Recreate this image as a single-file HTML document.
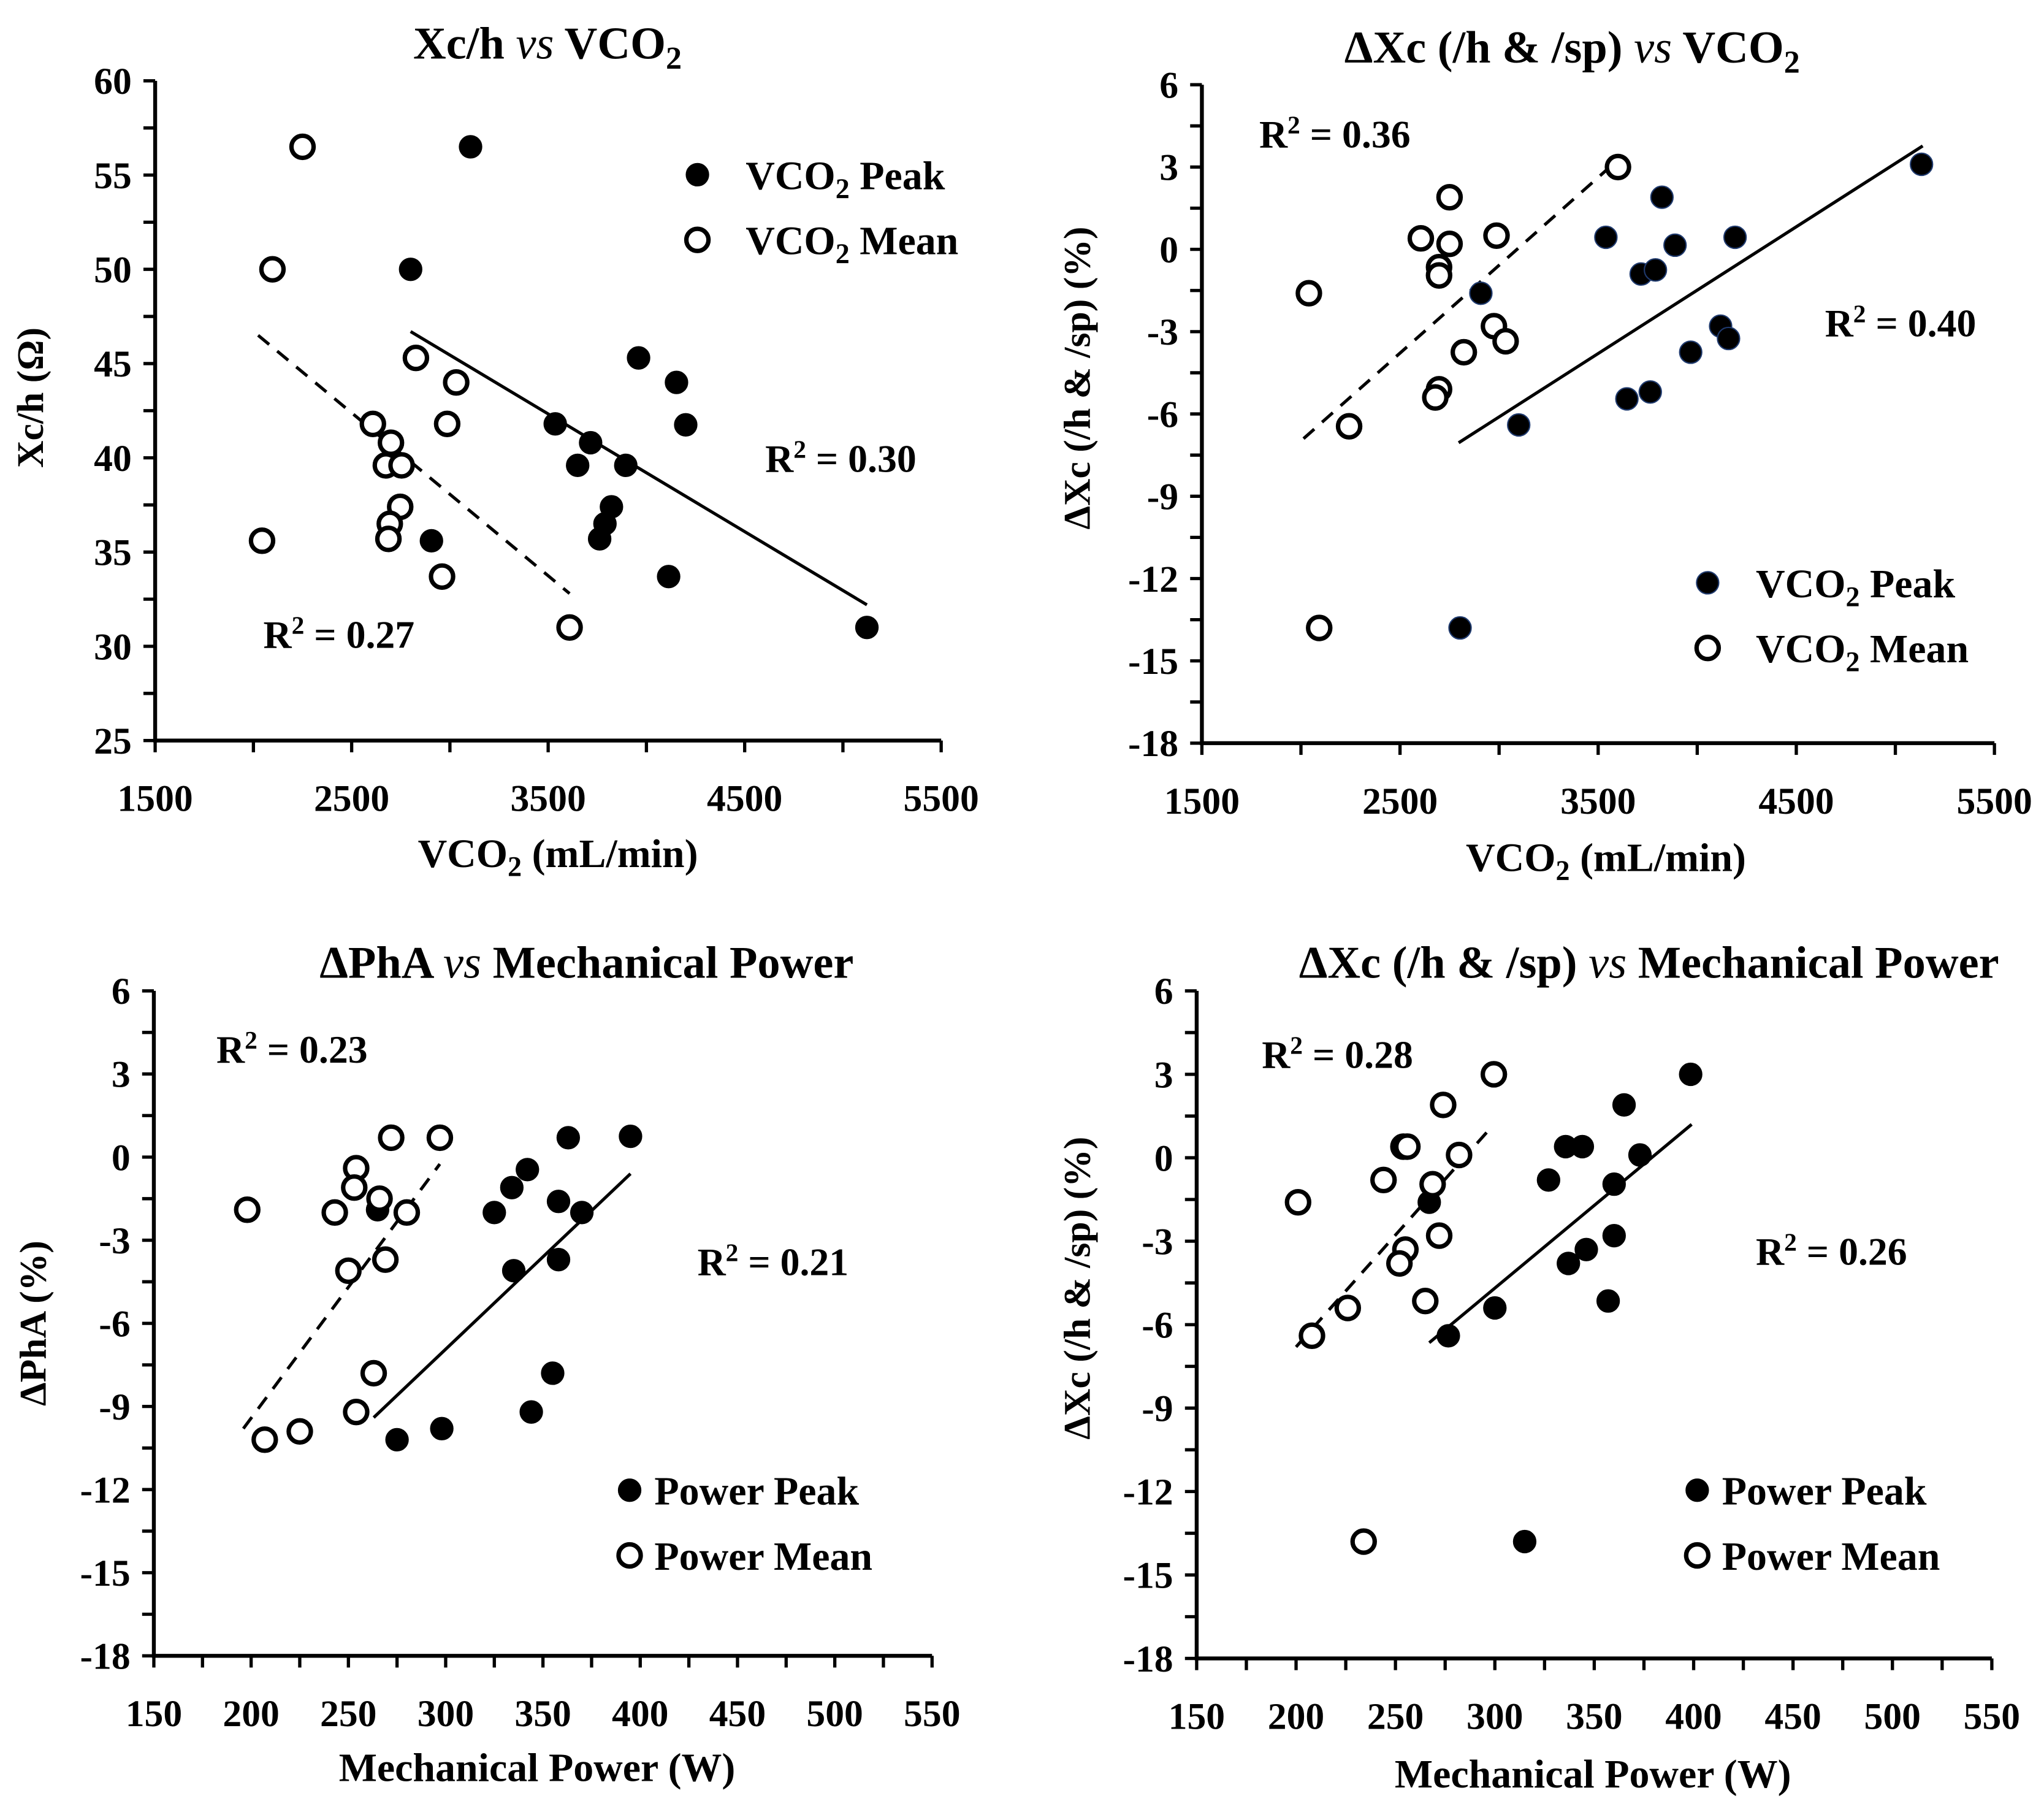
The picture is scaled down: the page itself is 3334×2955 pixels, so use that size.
<!DOCTYPE html>
<html><head><meta charset="utf-8"><style>
html,body{margin:0;padding:0;background:#fff}
svg{display:block}
text{font-family:"Liberation Serif",serif;font-weight:bold;fill:#000}
</style></head><body>
<svg id="c" width="3334" height="2955" viewBox="0 0 1568 1389.8" xmlns="http://www.w3.org/2000/svg"></svg>
<script>
// Panel 1: Xc/h vs VCO2
const p1PeakX=[3105,2800,3960,4153,4200,3536,3716,3650,3895,3822,3789,3762,2906,4113,5122];
const p1PeakY=[56.5,50,45.3,44,41.75,41.8,40.8,39.6,39.6,37.4,36.5,35.7,35.6,33.7,31.0];
const p1MeanX=[2250,2097,2827,3032,2608,2986,2700,2674,2754,2747,2694,2687,2044,2960,3609];
const p1MeanY=[56.5,50,45.3,44,41.8,41.8,40.8,39.6,39.6,37.4,36.5,35.7,35.6,33.7,31.0];
const p1TrendPeak=[[2800,46.7],[5122,32.2]];
const p1TrendMean=[[2024,46.5],[3609,32.8]];
// Panel 2: dXc vs VCO2
const p2PeakX=[5132,3822,3539,4191,3888,3717,3789,2908,4118,4158,3967,3645,3763,3099,2803];
const p2PeakY=[3.1,1.9,0.44,0.44,0.15,-0.9,-0.75,-1.6,-2.8,-3.25,-3.75,-5.45,-5.2,-6.4,-13.8];
const p2MeanX=[3600,2750,2605,2750,2987,2697,2697,2040,2974,3033,2822,2697,2678,2243,2092];
const p2MeanY=[3.0,1.9,0.4,0.2,0.5,-0.65,-0.95,-1.6,-2.8,-3.35,-3.75,-5.1,-5.4,-6.45,-13.8];
const p2TrendPeak=[[2796,-7.05],[5138,3.77]];
const p2TrendMean=[[2013,-6.9],[3559,3.0]];
// Panel 3: dPhA vs power
const p3PeakX=[395,363,342,334,325,358,370,265,358,335,355,344,298,275];
const p3PeakY=[0.75,0.7,-0.45,-1.1,-2.0,-1.6,-2.0,-1.9,-3.7,-4.1,-7.8,-9.2,-9.8,-10.2];
const p3MeanX=[198,243,254,253,266,280,272,297,250,269,263,254,225,207];
const p3MeanY=[-1.9,-2.0,-0.4,-1.1,-1.5,-2.0,0.7,0.7,-4.1,-3.7,-7.8,-9.2,-9.9,-10.2];
const p3TrendPeak=[[263,-9.4],[395,-0.6]];
const p3TrendMean=[[196,-9.8],[297,-0.25]];
// Panel 4: dXc vs power
const p4PeakX=[398.5,365,335.6,344,373,327,360,267,360,346,337,357,300,276.6,315];
const p4PeakY=[3.0,1.9,0.4,0.4,0.1,-0.8,-0.95,-1.6,-2.8,-3.3,-3.8,-5.15,-5.4,-6.4,-13.8];
const p4MeanX=[299.5,274,254,256,282,244,268.7,201,272,255,252,265,226,208,234];
const p4MeanY=[3.0,1.9,0.4,0.4,0.1,-0.8,-0.95,-1.6,-2.8,-3.3,-3.8,-5.15,-5.4,-6.4,-13.8];
const p4TrendPeak=[[267,-6.65],[399,1.2]];
const p4TrendMean=[[200,-6.8],[297,1.0]];
const vcoTicks=[1500,2500,3500,4500,5500];
const powTicks=[150,200,250,300,350,400,450,500,550];
const xcTicks=[25,30,35,40,45,50,55,60];
const pctTicks=[-18,-15,-12,-9,-6,-3,0,3,6];

const NS='http://www.w3.org/2000/svg';
const svg=document.getElementById('c');
function mk(tag,attrs,parent,txt){const e=document.createElementNS(NS,tag);for(const k in attrs)e.setAttribute(k,attrs[k]);if(txt!==undefined)e.textContent=txt;(parent||svg).appendChild(e);return e;}
function rich(parent,x,y,size,parts,anchor,name,rot){
  const t=mk('text',{x:x,y:y,'font-size':size,'text-anchor':anchor||'middle'},parent);
  if(rot)t.setAttribute('transform',rot);
  
  
  parts.forEach(p=>{const s=mk('tspan',{},t,p.t);if(p.sub){s.setAttribute('dy',size*0.22);s.setAttribute('font-size',size*0.7);}if(p.after){s.setAttribute('dy',-size*0.22);}if(p.sup){s.setAttribute('baseline-shift','super');s.setAttribute('font-size',size*0.65);}if(p.it){s.setAttribute('font-style','italic');s.setAttribute('font-weight','normal');}});
  return t;
}
function panel(cfg){
  const g=mk('g',{});
  
  
  const sx=v=>cfg.x0+(v-cfg.xmin)/(cfg.xmax-cfg.xmin)*(cfg.x1-cfg.x0);
  const sy=v=>cfg.y0+(v-cfg.ymin)/(cfg.ymax-cfg.ymin)*(cfg.y1-cfg.y0);
  const ax=mk('line',{x1:cfg.x0,y1:cfg.y0,x2:cfg.x1,y2:cfg.y0,stroke:'#000','stroke-width':3},g);
  
  const ay=mk('line',{x1:cfg.x0,y1:cfg.y0+1.5,x2:cfg.x0,y2:cfg.y1,stroke:'#000','stroke-width':3},g);
  
  const xt=cfg.xticks;
  for(let i=0;i<xt.length;i++){
    const X=sx(xt[i]);
    mk('line',{x1:X,y1:cfg.y0,x2:X,y2:cfg.y0+9,stroke:'#000','stroke-width':2.5},g);
    if(i<xt.length-1){const m=sx((xt[i]+xt[i+1])/2);mk('line',{x1:m,y1:cfg.y0,x2:m,y2:cfg.y0+9,stroke:'#000','stroke-width':2.5},g);}
    const t=mk('text',{x:X,y:cfg.y0+54,'font-size':29,'text-anchor':'middle'},g,String(xt[i]));
    
  }
  const yt=cfg.yticks;
  for(let i=0;i<yt.length;i++){
    const Y=sy(yt[i]);
    mk('line',{x1:cfg.x0-9,y1:Y,x2:cfg.x0,y2:Y,stroke:'#000','stroke-width':2.5},g);
    if(i<yt.length-1){const m=sy((yt[i]+yt[i+1])/2);mk('line',{x1:cfg.x0-9,y1:m,x2:cfg.x0,y2:m,stroke:'#000','stroke-width':2.5},g);}
    const t=mk('text',{x:cfg.x0-18,y:Y+10,'font-size':29,'text-anchor':'end'},g,String(yt[i]));
    
  }
  const tp=mk('line',{x1:sx(cfg.tp[0][0]),y1:sy(cfg.tp[0][1]),x2:sx(cfg.tp[1][0]),y2:sy(cfg.tp[1][1]),stroke:'#000','stroke-width':2.4},g);
  
  const tm=mk('line',{x1:sx(cfg.tm[0][0]),y1:sy(cfg.tm[0][1]),x2:sx(cfg.tm[1][0]),y2:sy(cfg.tm[1][1]),stroke:'#000','stroke-width':2.4,'stroke-dasharray':'11 8'},g);
  
  for(let i=0;i<cfg.px.length;i++){
    const c=mk('circle',{cx:sx(cfg.px[i]),cy:sy(cfg.py[i]),r:8.5,fill:'#000',stroke:cfg.peakStroke||'#000','stroke-width':1},g);
    
  }
  for(let i=0;i<cfg.mx.length;i++){
    const c=mk('circle',{cx:sx(cfg.mx[i]),cy:sy(cfg.my[i]),r:8.5,fill:'#fff',stroke:'#000','stroke-width':3.4},g);
    
  }
  const l1=mk('circle',{cx:cfg.lx,cy:cfg.ly,r:8.5,fill:'#000',stroke:cfg.peakStroke||'#000','stroke-width':1},g);
  
  rich(g,cfg.lx+cfg.lg,cfg.ly+11,31,cfg.leg1,'start','legend-entry-peak');
  const l2=mk('circle',{cx:cfg.lx,cy:cfg.ly+50,r:8.5,fill:'#fff',stroke:'#000','stroke-width':3.4},g);
  
  rich(g,cfg.lx+cfg.lg,cfg.ly+61,31,cfg.leg2,'start','legend-entry-mean');
  cfg.r2.forEach(r=>rich(g,r[0],r[1],30,[{t:'R'},{t:'2',sup:1},{t:' = '+r[2]}],'middle','r-squared-label'));
  rich(g,cfg.tx,cfg.ty,35,cfg.title,'middle','chart-title');
  rich(g,cfg.xlx,cfg.xly,31,cfg.xl,'middle','x-axis-title');
  rich(g,0,0,29,cfg.yl,'middle','y-axis-title','translate('+cfg.ylx+','+cfg.yly+') rotate(-90)');
}
const S=t=>[{t:'VCO'},{t:'2',sub:1},{t:t,after:1}];
panel({name:'panel-xc-vs-vco2',x0:119,x1:722,y0:568,y1:62,xmin:1500,xmax:5500,ymin:25,ymax:60,xticks:vcoTicks,yticks:xcTicks,
 px:p1PeakX,py:p1PeakY,mx:p1MeanX,my:p1MeanY,tp:p1TrendPeak,tm:p1TrendMean,lx:535,ly:134,lg:37,
 leg1:S(' Peak'),leg2:S(' Mean'),
 r2:[[645,362,'0.30'],[260,497,'0.27']],tx:420,ty:45,title:[{t:'Xc/h '},{t:'vs',it:1},{t:' VCO'},{t:'2',sub:1}],
 xl:S(' (mL/min)'),xlx:428,xly:665,yl:[{t:'Xc/h (Ω)'}],ylx:33,yly:305});
panel({name:'panel-dxc-vs-vco2',x0:922,x1:1530,y0:570,y1:65,xmin:1500,xmax:5500,ymin:-18,ymax:6,xticks:vcoTicks,yticks:pctTicks,
 px:p2PeakX,py:p2PeakY,mx:p2MeanX,my:p2MeanY,tp:p2TrendPeak,tm:p2TrendMean,lx:1310,ly:447,lg:37,peakStroke:'#1f3a6e',
 leg1:S(' Peak'),leg2:S(' Mean'),
 r2:[[1024,113,'0.36'],[1458,258,'0.40']],tx:1206,ty:48,title:[{t:'ΔXc (/h & /sp) '},{t:'vs',it:1},{t:' VCO'},{t:'2',sub:1}],
 xl:S(' (mL/min)'),xlx:1232,xly:668,yl:[{t:'ΔXc (/h & /sp) (%)'}],ylx:836,yly:290});
const powLab=[{t:'Mechanical Power (W)'}];
panel({name:'panel-dpha-vs-power',x0:118,x1:715,y0:1270,y1:760,xmin:150,xmax:550,ymin:-18,ymax:6,xticks:powTicks,yticks:pctTicks,
 px:p3PeakX,py:p3PeakY,mx:p3MeanX,my:p3MeanY,tp:p3TrendPeak,tm:p3TrendMean,lx:483,ly:1143,lg:19,
 leg1:[{t:'Power Peak'}],leg2:[{t:'Power Mean'}],
 r2:[[224,815,'0.23'],[593,978,'0.21']],tx:450,ty:750,title:[{t:'ΔPhA '},{t:'vs',it:1},{t:' Mechanical Power'}],
 xl:powLab,xlx:412,xly:1366,yl:[{t:'ΔPhA (%)'}],ylx:35,yly:1015});
panel({name:'panel-dxc-vs-power',x0:918,x1:1528,y0:1272,y1:760,xmin:150,xmax:550,ymin:-18,ymax:6,xticks:powTicks,yticks:pctTicks,
 px:p4PeakX,py:p4PeakY,mx:p4MeanX,my:p4MeanY,tp:p4TrendPeak,tm:p4TrendMean,lx:1302,ly:1143,lg:19,
 leg1:[{t:'Power Peak'}],leg2:[{t:'Power Mean'}],
 r2:[[1026,819,'0.28'],[1405,970,'0.26']],tx:1265,ty:750,title:[{t:'ΔXc (/h & /sp) '},{t:'vs',it:1},{t:' Mechanical Power'}],
 xl:powLab,xlx:1222,xly:1371,yl:[{t:'ΔXc (/h & /sp) (%)'}],ylx:836,yly:988});
</script>
</body></html>
